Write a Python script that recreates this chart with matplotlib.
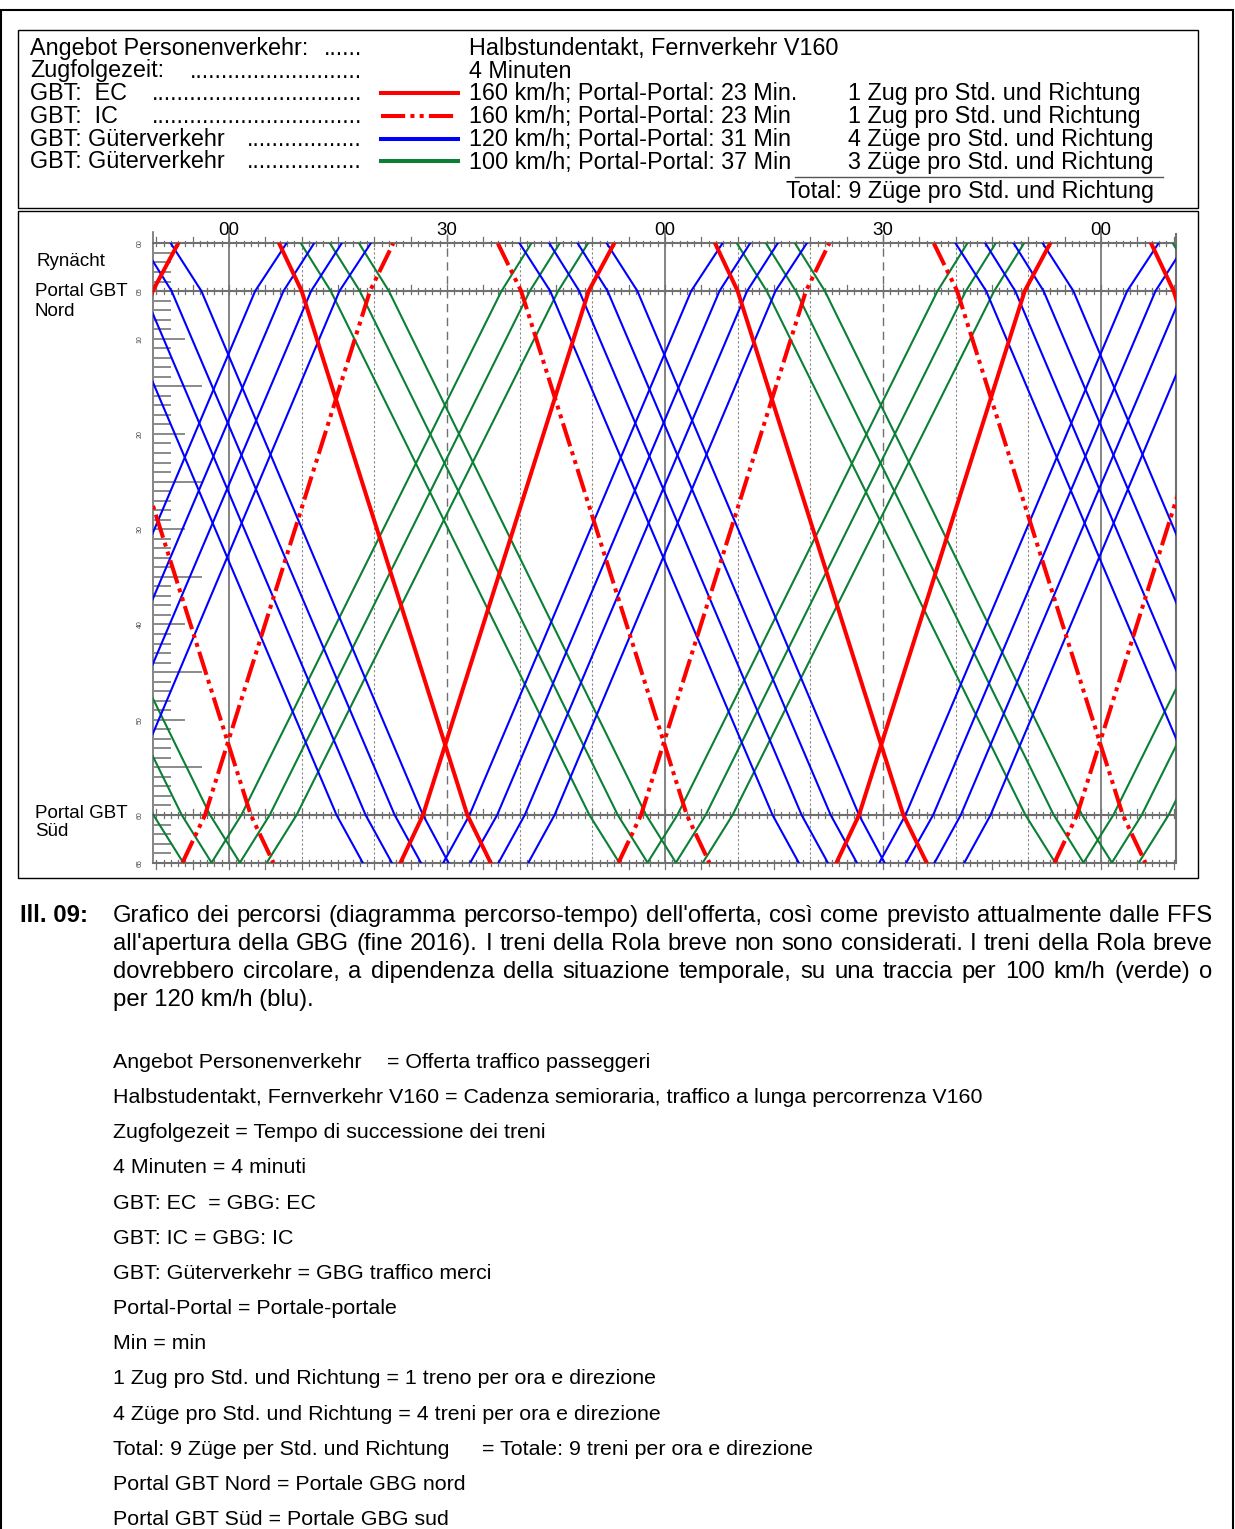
import matplotlib
matplotlib.use('Agg')
import matplotlib.pyplot as plt
from matplotlib.patches import Rectangle
from matplotlib.lines import Line2D

W, H = 1235, 1529
plt.rcParams['font.family'] = ['Liberation Sans', 'DejaVu Sans']

# stations along the line (km) in the order each direction passes them
km_south = [0, 5, 60, 65]
km_north = [65, 60, 5, 0]

# minutes at the four stations (pattern repeats hourly)
ec_south = [6.9, 10.0, 32.8, 36.0]
ec_north = [23.6, 26.7, 49.5, 53.0]
ic_south = [37.0, 40.2, 63.0, 66.1]
ic_north = [53.6, 56.7, 79.4, 82.6]
blue_south = [[40.0, 44.2, 74.8, 78.4], [44.1, 48.2, 78.8, 82.4],
              [48.0, 52.1, 82.8, 86.4], [52.0, 56.2, 86.7, 90.2]]
blue_north = [[29.5, 33.1, 63.6, 67.9], [33.2, 36.9, 67.5, 71.7],
              [37.1, 40.7, 71.3, 75.5], [41.2, 44.8, 75.2, 79.5]]
green_south = [[9.9, 14.0, 49.6, 53.7], [13.9, 18.0, 53.5, 57.6],
               [17.9, 22.0, 57.4, 61.5]]
green_north = [[57.6, 61.7, 97.5, 101.6], [61.5, 65.6, 101.4, 105.5],
               [65.2, 69.3, 105.3, 109.4]]
hour_shifts = [-120, -60, 0, 60, 120]

time_labels = ['00', '30', '00', '30', '00']
time_label_min = [0, 30, 60, 90, 120]
km_labels = ['00', '05', '10', '20', '30', '40', '50', '60', '65']
km_label_pos = [0, 5, 10, 20, 30, 40, 50, 60, 65]

RED = '#ff0000'
BLUE = '#0000ff'
GREEN = '#0b7f35'
GRID = '#707070'
IC_DASH = (0, (6, 1.3, 1, 1.3, 1, 1.3))


def fx(px):
    return px / W


def fy(py):
    return 1 - py / H


fig = plt.figure(figsize=(W / 100, H / 100), dpi=100)

# frames
fig.patches.append(Rectangle((fx(1), fy(1540)), fx(1232), (1530) / H, fill=False,
                             lw=1.5, ec='black', transform=fig.transFigure))
fig.patches.append(Rectangle((fx(18), fy(208)), fx(1180), 178 / H, fill=False,
                             lw=1, ec='black', transform=fig.transFigure))
fig.patches.append(Rectangle((fx(18), fy(878)), fx(1180), 667 / H, fill=False,
                             lw=1, ec='black', transform=fig.transFigure))

# ---- legend block
fs = 16.8
left_rows = ['Angebot Personenverkehr:', 'Zugfolgezeit:', 'GBT:  EC', 'GBT:  IC',
             'GBT: Güterverkehr', 'GBT: Güterverkehr']
dots = [6, 27, 33, 33, 18, 18]
mid_rows = ['Halbstundentakt, Fernverkehr V160', '4 Minuten',
            '160 km/h; Portal-Portal: 23 Min.', '160 km/h; Portal-Portal: 23 Min',
            '120 km/h; Portal-Portal: 31 Min', '100 km/h; Portal-Portal: 37 Min']
right_rows = ['', '', '1 Zug pro Std. und Richtung', '1 Zug pro Std. und Richtung',
              '4 Züge pro Std. und Richtung', '3 Züge pro Std. und Richtung']
base = [55, 77.5, 100, 123, 146, 168.5]
for i in range(6):
    fig.text(fx(30), fy(base[i]), left_rows[i], fontsize=fs, va='baseline')
    fig.text(fx(362), fy(base[i]), '.' * dots[i], fontsize=fs, va='baseline', ha='right')
    fig.text(fx(469), fy(base[i]), mid_rows[i], fontsize=fs, va='baseline')
    if right_rows[i]:
        fig.text(fx(848), fy(base[i]), right_rows[i], fontsize=fs, va='baseline')

styles = [dict(color=RED, ls='-'), dict(color=RED, ls=IC_DASH),
          dict(color=BLUE, ls='-'), dict(color=GREEN, ls='-')]
for i, st in enumerate(styles):
    yy = fy(base[i + 2] - 7.5)
    fig.add_artist(Line2D([fx(381), fx(458)], [yy, yy], lw=2.9,
                          dash_capstyle='butt', **st))
fig.add_artist(Line2D([fx(795), fx(1163)], [fy(177), fy(177)], lw=1, color='#555555'))
fig.text(fx(786), fy(198), 'Total: 9 Züge pro Std. und Richtung', fontsize=fs, va='baseline')

# ---- time-distance diagram
px0, ppm = 229, 872 / 120
ky0, ppk = 243.4, 9.527
xmin, xmax = (153 - px0) / ppm, (1176 - px0) / ppm
ax = fig.add_axes([fx(153), fy(ky0 + 65 * ppk), (1176 - 153) / W, 65 * ppk / H])
ax.set_xlim(xmin, xmax)
ax.set_ylim(65, 0)
ax.axis('off')

# vertical grid
for m in [0, 60, 120]:
    ax.plot([m, m], [-1.2, 65], color=GRID, lw=1.2, clip_on=False, zorder=1)
for m in [30, 90]:
    ax.plot([m, m], [-1.0, 65], color=GRID, lw=1.0, ls=(0, (6, 4)), clip_on=False, zorder=1)
for m in [10, 20, 40, 50, 70, 80, 100, 110]:
    ax.plot([m, m], [0, 65], color='#888888', lw=0.8, ls=(0, (2, 2)), zorder=1)
ax.plot([xmin, xmin], [-1.2, 65], color=GRID, lw=1.2, clip_on=False, zorder=1)
ax.plot([xmax, xmax], [-1.0, 65], color=GRID, lw=1.5, clip_on=False, zorder=1)

# station lines with minute ticks
for k in [0, 5, 60, 65]:
    ax.plot([xmin, xmax], [k, k], color=GRID, lw=1.5, clip_on=False, zorder=1)
    for m in range(-10, 131):
        if m % 5 == 0:
            lo, hi = (k - 0.3, k + 0.65) if k == 65 else (k - 0.65, k + 0.3)
        else:
            lo, hi = k - 0.3, k + 0.3
        ax.plot([m, m], [lo, hi], color=GRID, lw=0.9, clip_on=False, zorder=1)

# km ticks along the left edge
for k in range(1, 65):
    if k in (5, 60):
        continue
    if k % 10 == 0:
        ln = 31
    elif k % 5 == 0:
        ln = 48
    else:
        ln = 17
    ax.plot([xmin, xmin + ln / ppm], [k, k], color='#8a8a8a', lw=1.4, zorder=1)

# trains
for sh in hour_shifts:
    for tr in green_south:
        ax.plot([t + sh for t in tr], km_south, color=GREEN, lw=1.5, zorder=2)
    for tr in green_north:
        ax.plot([t + sh for t in tr], km_north, color=GREEN, lw=1.5, zorder=2)
    for tr in blue_south:
        ax.plot([t + sh for t in tr], km_south, color=BLUE, lw=1.5, zorder=3)
    for tr in blue_north:
        ax.plot([t + sh for t in tr], km_north, color=BLUE, lw=1.5, zorder=3)
    ax.plot([t + sh for t in ec_south], km_south, color=RED, lw=2.9, zorder=4)
    ax.plot([t + sh for t in ec_north], km_north, color=RED, lw=2.9, zorder=4)
    ax.plot([t + sh for t in ic_south], km_south, color=RED, lw=2.9, ls=IC_DASH,
            dash_capstyle='butt', zorder=4)
    ax.plot([t + sh for t in ic_north], km_north, color=RED, lw=2.9, ls=IC_DASH,
            dash_capstyle='butt', zorder=4)

for lab, m in zip(time_labels, time_label_min):
    ax.text(m, -1.4, lab, fontsize=13.5, ha='center', va='center', clip_on=False)
for lab, k in zip(km_labels, km_label_pos):
    fig.text(fx(140), fy(ky0 + k * ppk), lab, fontsize=5, rotation=90,
             ha='center', va='center', color='#444444')

fig.text(fx(37), fy(262), 'Rynächt', fontsize=13.5, va='center')
fig.text(fx(35), fy(292), 'Portal GBT', fontsize=13.5, va='center')
fig.text(fx(35), fy(311), 'Nord', fontsize=13.5, va='center')
fig.text(fx(35), fy(814), 'Portal GBT', fontsize=13.5, va='center')
fig.text(fx(35), fy(832), 'Süd', fontsize=13.5, va='center')

# ---- caption
cap_fs = 17.2
fig.text(fx(20), fy(922), 'Ill. 09:', fontsize=cap_fs, weight='bold', va='baseline')
caption = ["Grafico dei percorsi (diagramma percorso-tempo) dell'offerta, così come previsto attualmente dalle FFS",
           "all'apertura della GBG (fine 2016). I treni della Rola breve non sono considerati. I treni della Rola breve",
           "dovrebbero circolare, a dipendenza della situazione temporale, su una traccia per 100 km/h (verde) o",
           "per 120 km/h (blu)."]
renderer = fig.canvas.get_renderer()
for i, line in enumerate(caption):
    yb = fy(922 + 28 * i)
    if i == len(caption) - 1:
        fig.text(fx(113), yb, line, fontsize=cap_fs, va='baseline')
        continue
    words = line.split()
    arts = [fig.text(0, yb, w, fontsize=cap_fs, va='baseline') for w in words]
    widths = [a.get_window_extent(renderer).width for a in arts]
    gap = (1212 - 113 - sum(widths)) / (len(words) - 1)
    x = 113
    for a, w in zip(arts, widths):
        a.set_x(fx(x))
        x += w + gap

glossary = ['Angebot Personenverkehr', 'Halbstudentakt, Fernverkehr V160 = Cadenza semioraria, traffico a lunga percorrenza V160',
            'Zugfolgezeit = Tempo di successione dei treni', '4 Minuten = 4 minuti',
            'GBT: EC  = GBG: EC', 'GBT: IC = GBG: IC', 'GBT: Güterverkehr = GBG traffico merci',
            'Portal-Portal = Portale-portale', 'Min = min',
            '1 Zug pro Std. und Richtung = 1 treno per ora e direzione',
            '4 Züge pro Std. und Richtung = 4 treni per ora e direzione',
            'Total: 9 Züge per Std. und Richtung', 'Portal GBT Nord = Portale GBG nord',
            'Portal GBT Süd = Portale GBG sud']
gl_fs = 15.4
for i, g in enumerate(glossary):
    yb = fy(1068 + 35.15 * i)
    fig.text(fx(113), yb, g, fontsize=gl_fs, va='baseline')
fig.text(fx(387), fy(1068), '= Offerta traffico passeggeri', fontsize=gl_fs, va='baseline')
fig.text(fx(482), fy(1068 + 35.15 * 11), '= Totale: 9 treni per ora e direzione', fontsize=gl_fs, va='baseline')

fig.savefig('out.png', dpi=100)
